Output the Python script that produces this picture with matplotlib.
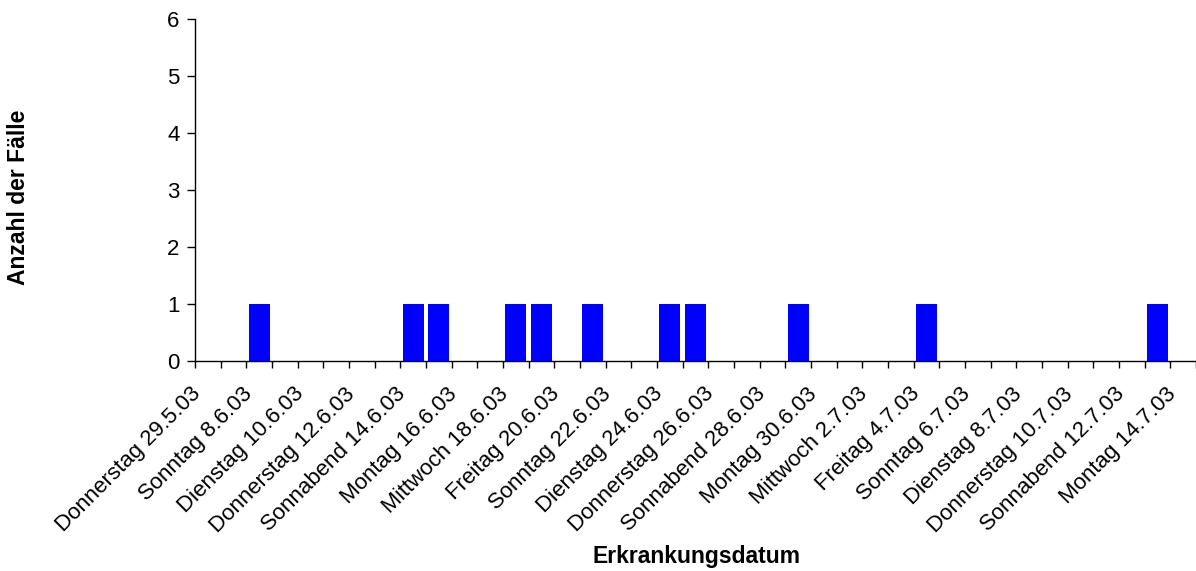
import matplotlib
matplotlib.use("Agg")
import matplotlib.pyplot as plt
import numpy as np

plt.rcParams["font.family"] = ["Liberation Sans", "DejaVu Sans"]

# one category per day of illness onset (29.5.03, then 7.6.03 - 14.7.03)
dates = ["Donnerstag 29.5.03", "Sonnabend 7.6.03", "Sonntag 8.6.03", "Montag 9.6.03",
         "Dienstag 10.6.03", "Mittwoch 11.6.03", "Donnerstag 12.6.03", "Freitag 13.6.03",
         "Sonnabend 14.6.03", "Sonntag 15.6.03", "Montag 16.6.03", "Dienstag 17.6.03",
         "Mittwoch 18.6.03", "Donnerstag 19.6.03", "Freitag 20.6.03", "Sonnabend 21.6.03",
         "Sonntag 22.6.03", "Montag 23.6.03", "Dienstag 24.6.03", "Mittwoch 25.6.03",
         "Donnerstag 26.6.03", "Freitag 27.6.03", "Sonnabend 28.6.03", "Sonntag 29.6.03",
         "Montag 30.6.03", "Dienstag 1.7.03", "Mittwoch 2.7.03", "Donnerstag 3.7.03",
         "Freitag 4.7.03", "Sonnabend 5.7.03", "Sonntag 6.7.03", "Montag 7.7.03",
         "Dienstag 8.7.03", "Mittwoch 9.7.03", "Donnerstag 10.7.03", "Freitag 11.7.03",
         "Sonnabend 12.7.03", "Sonntag 13.7.03", "Montag 14.7.03"]
cases = [0, 0, 1, 0, 0, 0, 0, 0, 1, 1, 0, 0, 1, 1, 0, 1, 0, 0, 1, 1,
         0, 0, 0, 1, 0, 0, 0, 0, 1, 0, 0, 0, 0, 0, 0, 0, 0, 1, 0]

W, H = 1196, 571
fig = plt.figure(figsize=(W / 100, H / 100), dpi=100)
ax = fig.add_axes([195 / W, 1 - 361 / H, 1 - 195 / W, (361 - 19) / H])

x = np.arange(len(dates))
ax.bar(x, cases, width=0.83, color="#0000FF", edgecolor="none", zorder=2)

ax.set_xlim(-0.5, len(dates) - 0.5)
ax.set_ylim(0, 6)
ax.set_yticks(range(7))

# ticks on category borders, labels on every second category
ax.set_xticks(np.arange(-0.5, len(dates), 1.0))
ax.set_xticklabels([])
ax.set_xticks(x[::2] - 0.4, minor=True)
ax.set_xticklabels(dates[::2], minor=True, rotation=45, ha="right",
                   va="center", rotation_mode="anchor")
ax.tick_params(axis="x", which="major", length=5, width=1, direction="out")
ax.tick_params(axis="x", which="minor", length=0, pad=21.5, labelsize=16)
ax.tick_params(axis="y", length=6, width=1, labelsize=16, pad=5)

for s in ["top", "right"]:
    ax.spines[s].set_visible(False)
for s in ["left", "bottom"]:
    ax.spines[s].set_linewidth(1)

fig.text(19 / W, 1 - 197 / H, "Anzahl der Fälle", rotation=90, ha="center",
         va="center", fontsize=16.5, fontweight="bold")
fig.text(697 / W, 1 - 557 / H, "Erkrankungsdatum", ha="center", va="center",
         fontsize=16.5, fontweight="bold")

fig.savefig("out.png", dpi=100)
